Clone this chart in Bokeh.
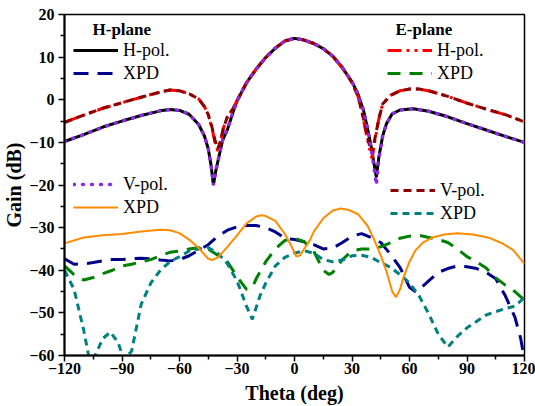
from bokeh.plotting import figure
from bokeh.models import Range1d, Legend, LegendItem, Label, FixedTicker
from bokeh.embed import file_html
from bokeh.resources import INLINE

# ---------------- data ----------------
# H-plane, H-pol (co-pol)
th_h_hpol = [-120, -110, -100, -90, -80, -70, -65, -60, -55, -50, -47, -45, -43.5, -42.3, -41, -39.5, -37.5,
             -35, -32, -30, -25, -20, -15, -10, -5, 0, 5, 10, 15, 20, 25, 30, 33, 36, 38, 40, 41.5, 42.7,
             44, 46, 48, 51, 55, 62, 70, 80, 90, 100, 110, 120]
g_h_hpol = [-9.8, -8.2, -6.4, -5.0, -3.7, -2.6, -2.3, -2.5, -3.4, -5.8, -8.5, -11.5, -15.5, -20.0, -16.5, -13.5, -9.5,
            -7.0, -2.8, -0.3, 4.0, 7.2, 9.9, 12.1, 13.8, 14.4, 14.0, 13.2, 12.0, 10.2, 7.5, 4.2, 1.5, -2.5, -6.5, -11.0, -15.0, -18.2,
            -13.5, -8.5, -5.6, -3.3, -2.4, -2.1, -2.7, -4.0, -5.6, -7.1, -8.6, -10.0]

# H-plane, V-pol
th_h_vpol = [-120, -110, -100, -90, -80, -70, -65, -60, -55, -50, -47, -45, -43.5, -42.3, -41, -39.5, -37.5,
             -35, -32, -30, -25, -20, -15, -10, -5, 0, 5, 10, 15, 20, 25, 30, 33, 36, 38, 40, 41.5, 42.7,
             44, 46, 48, 51, 55, 62, 70, 80, 90, 100, 110, 120]
g_h_vpol = [-9.8, -8.2, -6.4, -5.0, -3.7, -2.6, -2.3, -2.5, -3.4, -5.8, -8.5, -11.5, -15.5, -20.0, -16.5, -13.5, -9.5,
            -7.0, -2.8, -0.3, 4.0, 7.2, 9.9, 12.1, 13.8, 14.4, 14.0, 13.2, 12.0, 10.2, 7.5, 4.2, 1.5, -2.5, -6.5, -11.5, -16.0, -20.0,
            -14.0, -8.5, -5.6, -3.3, -2.4, -2.1, -2.7, -4.0, -5.6, -7.1, -8.6, -10.0]

# E-plane, H-pol
th_e_hpol = [-120, -110, -100, -90, -80, -70, -65, -60, -55, -50, -47, -45, -43, -41.5, -40, -38.5, -37, -35,
             -32, -30, -25, -20, -15, -10, -5, 0, 5, 10, 15, 20, 25, 30, 33, 35, 37, 39, 40.5, 42, 44, 46,
             50, 55, 60, 65, 70, 80, 90, 100, 110, 120]
g_e_hpol = [-5.3, -3.6, -2.0, -0.7, 0.6, 1.8, 2.3, 2.1, 1.4, 0.2, -1.6, -3.5, -6.8, -10.0, -12.0, -9.5, -6.5, -4.0,
            -2.0, -0.2, 4.0, 7.2, 9.9, 12.1, 13.8, 14.4, 14.0, 13.2, 12.0, 10.2, 7.5, 4.0, 1.0, -2.5, -7.0, -11.2, -13.8, -9.5, -4.5, -1.0,
            1.0, 2.1, 2.5, 2.5, 2.1, 0.8, -0.8, -2.2, -3.5, -5.2]

# E-plane, V-pol
th_e_vpol = [-120, -110, -100, -90, -80, -70, -65, -60, -55, -50, -47, -45, -43, -41.5, -40, -38.5, -37, -35,
             -32, -30, -25, -20, -15, -10, -5, 0, 5, 10, 15, 20, 25, 30, 33, 35, 37, 39, 40.5, 42, 44, 46,
             50, 55, 60, 65, 70, 80, 90, 100, 110, 120]
g_e_vpol = [-5.3, -3.6, -2.0, -0.7, 0.6, 1.8, 2.3, 2.1, 1.4, 0.2, -1.6, -3.5, -6.5, -9.5, -11.5, -9.5, -6.5, -4.0,
            -2.0, -0.2, 4.0, 7.2, 9.9, 12.1, 13.8, 14.4, 14.0, 13.2, 12.0, 10.2, 7.5, 4.0, 1.0, -2.5, -6.5, -10.5, -12.5, -9.0, -4.5, -1.0,
            1.0, 2.1, 2.5, 2.5, 2.1, 0.8, -0.8, -2.2, -3.5, -5.2]

# H-plane XPD (H-pol)
th_h_xpd1 = [-120, -115, -110, -105, -100, -95, -90, -85, -80, -75, -70, -65, -60, -55, -50, -45, -40, -35, -30,
             -25, -20, -15, -10, -5, 0, 5, 10, 15, 20, 25, 30, 35, 40, 45, 50, 55, 60, 63, 65, 70, 75, 80, 85,
             90, 95, 100, 105, 110, 115, 118, 120]
g_h_xpd1 = [-37.3, -38.6, -38.5, -38.2, -37.8, -37.5, -37.5, -37.3, -37.2, -37.3, -37.6, -37.8, -37.5, -36.6, -35.3,
            -34.0, -32.0, -30.6, -29.8, -29.5, -29.5, -30.0, -31.0, -32.5, -32.8, -33.3, -34.0, -35.0, -34.8, -33.5, -32.0,
            -31.4, -32.3, -33.5, -36.2, -39.3, -44.0, -45.0, -44.5, -42.5, -40.5, -39.6, -39.0, -39.2, -39.6, -40.5, -42.0,
            -46.0, -51.0, -56.0, -61.0]

# E-plane XPD (H-pol)
th_e_xpd1 = [-120, -115, -110, -105, -100, -95, -90, -85, -80, -75, -70, -65, -60, -55, -50, -45, -40, -35, -30,
             -25, -22, -20, -15, -10, -5, 0, 5, 10, 15, 18, 20, 25, 30, 35, 40, 45, 50, 55, 60, 65, 70, 75, 80,
             85, 90, 95, 100, 105, 110, 115, 120]
g_e_xpd1 = [-39.0, -41.0, -42.3, -41.7, -40.8, -40.0, -39.0, -38.6, -38.0, -37.5, -36.6, -35.8, -35.5, -35.0, -34.7,
            -35.0, -36.5, -38.0, -41.5, -44.5, -44.0, -42.0, -38.0, -35.0, -33.0, -32.5, -33.3, -35.5, -40.0, -41.0, -40.5,
            -37.5, -35.5, -35.0, -35.0, -34.5, -33.6, -32.5, -32.0, -31.8, -32.3, -32.8, -33.5, -35.0, -36.8, -38.0, -39.5,
            -41.8, -43.5, -45.0, -47.0]

# H-plane XPD (V-pol)
th_h_xpd2 = [-120, -110, -100, -90, -80, -70, -65, -60, -55, -50, -45, -43, -40, -35, -30, -25, -20, -17, -15,
             -10, -5, -2, 1, 3, 5, 8, 10, 15, 20, 24, 28, 33, 38, 41, 45, 48, 51, 53, 55, 57, 60, 63, 67, 72,
             78, 85, 93, 101, 108, 114, 120]
g_h_xpd2 = [-33.7, -32.3, -31.8, -31.5, -30.9, -30.5, -30.6, -31.3, -32.8, -34.8, -37.3, -37.6, -37.0, -34.5, -31.8,
            -29.0, -27.4, -27.1, -27.3, -28.4, -31.5, -34.0, -36.8, -36.5, -35.0, -33.0, -31.0, -27.8, -26.0, -25.5, -25.8,
            -26.8, -29.5, -32.3, -36.5, -40.3, -45.0, -46.3, -44.5, -41.5, -38.0, -35.4, -33.5, -32.3, -31.6, -31.3, -31.6,
            -32.3, -33.6, -35.2, -38.5]

# E-plane XPD (V-pol)
th_e_xpd2 = [-120, -115, -110, -107, -104, -100, -96, -92, -89, -85, -80, -75, -70, -65, -60, -55, -50, -45, -40,
             -35, -30, -25, -22, -18, -15, -10, -5, 0, 5, 10, 15, 20, 25, 30, 35, 40, 45, 50, 55, 60, 65, 70, 75,
             80, 85, 90, 95, 100, 105, 110, 115, 120]
g_e_xpd2 = [-40.0, -44.5, -54.0, -61.0, -60.0, -56.0, -54.5, -57.0, -61.0, -59.0, -48.0, -43.0, -40.0, -38.0, -36.8,
            -35.5, -35.0, -34.7, -36.0, -38.5, -42.5, -48.5, -51.5, -46.0, -43.0, -39.0, -37.0, -36.0, -35.4, -36.0, -37.5,
            -38.0, -37.6, -36.6, -36.5, -37.0, -38.2, -39.3, -41.0, -43.0, -46.0, -50.2, -55.0, -58.0, -55.5, -53.5, -52.0,
            -50.5, -49.7, -49.0, -48.4, -46.4]

x_ticks = [-120, -90, -60, -30, 0, 30, 60, 90, 120]
x_minor = [-105, -75, -45, -15, 15, 45, 75, 105]
y_ticks = [-60, -50, -40, -30, -20, -10, 0, 10, 20]
y_minor = [-55, -45, -35, -25, -15, -5, 5, 15]

# ---------------- figure ----------------
FONT = "Liberation Serif"
p = figure(width=535, height=406, x_range=Range1d(-120, 120), y_range=Range1d(-60, 20),
           output_backend="svg", toolbar_location=None,
           min_border_left=64, min_border_right=11, min_border_top=14, min_border_bottom=51)
p.xgrid.visible = False
p.ygrid.visible = False
p.outline_line_color = "black"
p.outline_line_width = 1.5
p.background_fill_color = "white"
p.border_fill_color = "white"

p.xaxis.ticker = FixedTicker(ticks=x_ticks, minor_ticks=x_minor)
p.yaxis.ticker = FixedTicker(ticks=y_ticks, minor_ticks=y_minor)
p.xaxis.axis_label = "Theta (deg)"
p.yaxis.axis_label = "Gain (dB)"
for ax in (p.xaxis[0], p.yaxis[0]):
    ax.axis_line_width = 2
    ax.axis_line_color = "black"
    ax.major_tick_in = 0
    ax.major_tick_out = 6
    ax.minor_tick_in = 0
    ax.minor_tick_out = 4
    ax.major_tick_line_width = 1.5
    ax.minor_tick_line_width = 1.5
    ax.major_label_text_font = FONT
    ax.major_label_text_font_style = "bold"
    ax.major_label_text_font_size = "16px"
    ax.major_label_text_color = "black"
    ax.axis_label_text_font = FONT
    ax.axis_label_text_font_style = "bold"
    ax.axis_label_text_font_size = "20px"
    ax.axis_label_text_color = "black"
p.xaxis.major_label_standoff = 1
p.xaxis.axis_label_standoff = 5
p.yaxis.major_label_standoff = 4
p.yaxis.axis_label_standoff = 1

r_hh = p.line(th_h_hpol, g_h_hpol, line_color="black", line_width=3)
r_eh = p.line(th_e_hpol, g_e_hpol, line_color="#FF0000", line_width=3, line_dash="14 5 3 5 3 5")
r_ev = p.line(th_e_vpol, g_e_vpol, line_color="#8B0000", line_width=3, line_dash="8 5")
r_hv = p.line(th_h_vpol, g_h_vpol, line_color="#8A2BE2", line_width=3.5, line_dash="1 8", line_cap="round")
r_hx1 = p.line(th_h_xpd1, g_h_xpd1, line_color="#00008B", line_width=3, line_dash="15 9")
r_ex1 = p.line(th_e_xpd1, g_e_xpd1, line_color="#008000", line_width=3, line_dash="13 9")
r_ex2 = p.line(th_e_xpd2, g_e_xpd2, line_color="#008080", line_width=3, line_dash="7 5")
r_hx2 = p.line(th_h_xpd2, g_h_xpd2, line_color="#FF8C00", line_width=2)


def make_legend(items, loc):
    lg = Legend(items=items, location=loc, orientation="vertical",
                border_line_alpha=0, background_fill_alpha=0,
                label_text_font=FONT, label_text_font_size="18px", label_text_color="black",
                glyph_width=45, glyph_height=22, label_height=22, label_standoff=5,
                spacing=1, padding=0, margin=0)
    p.add_layout(lg, "center")
    return lg


make_legend([LegendItem(label="H-pol.", renderers=[r_hh]),
             LegendItem(label="XPD", renderers=[r_hx1])], (9, 271))
make_legend([LegendItem(label="H-pol.", renderers=[r_eh]),
             LegendItem(label="XPD", renderers=[r_ex1])], (323, 271))
make_legend([LegendItem(label="V-pol.", renderers=[r_hv]),
             LegendItem(label="XPD", renderers=[r_hx2])], (9, 137))
make_legend([LegendItem(label="V-pol.", renderers=[r_ev]),
             LegendItem(label="XPD", renderers=[r_ex2])], (326, 131))

for txt, xs in (("H-plane", 28), ("E-plane", 331)):
    p.add_layout(Label(x=xs, y=326, x_units="screen", y_units="screen", text=txt,
                       text_font=FONT, text_font_style="bold", text_font_size="17px",
                       text_baseline="middle", text_color="black"))

open("out.html", "w").write(file_html(p, INLINE))
